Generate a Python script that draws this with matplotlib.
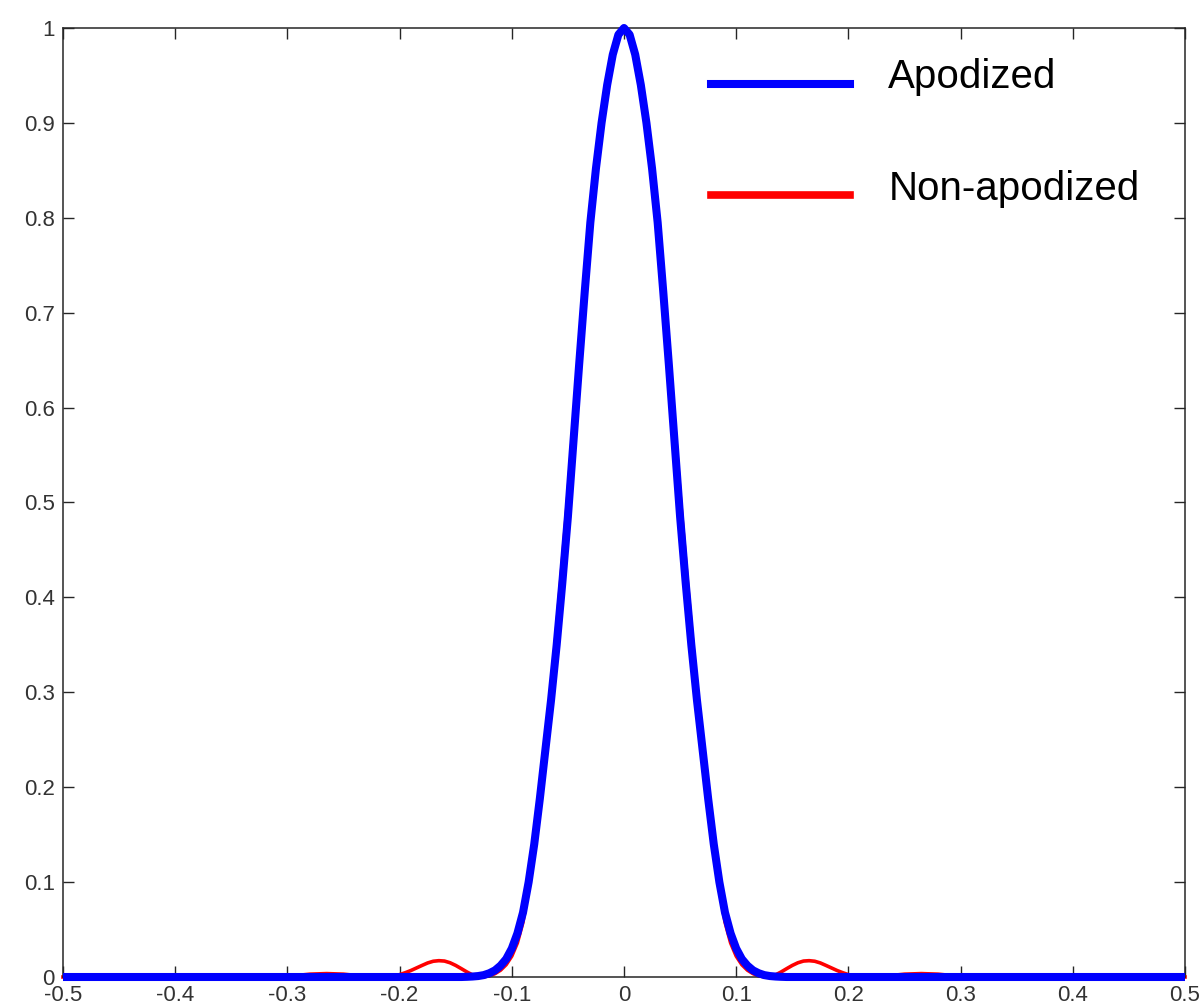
import matplotlib
matplotlib.use("Agg")
import matplotlib.pyplot as plt
from matplotlib.lines import Line2D
from matplotlib.legend_handler import HandlerLine2D

plt.rcParams['font.family'] = ['Liberation Sans', 'DejaVu Sans']

# sample positions
x = [-0.5, -0.45, -0.42, -0.4, -0.385, -0.365, -0.345, -0.33, -0.31, -0.3,
     -0.29, -0.28, -0.265, -0.25, -0.24, -0.23, -0.22, -0.21, -0.205, -0.2,
     -0.195, -0.19, -0.185, -0.18, -0.175, -0.17, -0.165, -0.16, -0.155, -0.15,
     -0.145, -0.14, -0.135, -0.13, -0.125, -0.12, -0.115, -0.11, -0.105, -0.1,
     -0.095, -0.09, -0.085, -0.08, -0.075, -0.07, -0.065, -0.06, -0.055, -0.05,
     -0.045, -0.04, -0.035, -0.03, -0.025, -0.02, -0.015, -0.01, -0.005,
     0.0,
     0.005, 0.01, 0.015, 0.02, 0.025, 0.03, 0.035, 0.04, 0.045, 0.05,
     0.055, 0.06, 0.065, 0.07, 0.075, 0.08, 0.085, 0.09, 0.095, 0.1,
     0.105, 0.11, 0.115, 0.12, 0.125, 0.13, 0.135, 0.14, 0.145, 0.15,
     0.155, 0.16, 0.165, 0.17, 0.175, 0.18, 0.185, 0.19, 0.195, 0.2,
     0.205, 0.21, 0.22, 0.23, 0.24, 0.25, 0.265, 0.28, 0.29, 0.3,
     0.31, 0.33, 0.345, 0.365, 0.385, 0.4, 0.42, 0.45, 0.5]

non_apodized = [0, 0, 0, 0.0002, 0.0008, 0.0012, 0.0008, 0.0002, 0, 0.0006,
                0.0018, 0.003, 0.0036, 0.003, 0.0018, 0.0006, 0, 0.0003, 0.0012, 0.0025,
                0.0045, 0.0068, 0.0095, 0.0122, 0.0148, 0.0166, 0.0172, 0.0168, 0.015, 0.0122,
                0.0088, 0.0053, 0.0022, 0.0004, 0.0002, 0.0012, 0.0035, 0.0072, 0.013, 0.022,
                0.036, 0.058, 0.094, 0.14, 0.19, 0.242, 0.303, 0.368, 0.437, 0.508,
                0.585, 0.662, 0.732, 0.8, 0.856, 0.903, 0.943, 0.974, 0.993,
                1.0,
                0.993, 0.974, 0.943, 0.903, 0.856, 0.8, 0.732, 0.662, 0.585, 0.508,
                0.437, 0.368, 0.303, 0.242, 0.19, 0.14, 0.094, 0.058, 0.036, 0.022,
                0.013, 0.0072, 0.0035, 0.0012, 0.0002, 0.0004, 0.0022, 0.0053, 0.0088, 0.0122,
                0.015, 0.0168, 0.0172, 0.0166, 0.0148, 0.0122, 0.0095, 0.0068, 0.0045, 0.0025,
                0.0012, 0.0003, 0, 0.0006, 0.0018, 0.003, 0.0036, 0.003, 0.0018, 0.0006,
                0, 0.0002, 0.0008, 0.0012, 0.0008, 0.0002, 0, 0, 0]

apodized = [0, 0, 0, 0, 0, 0, 0, 0, 0, 0,
            0, 0, 0, 0, 0, 0, 0, 0, 0, 0,
            0, 0, 0, 0, 0, 0, 0, 0, 0, 0,
            0, 0.0002, 0.0005, 0.001, 0.002, 0.004, 0.007, 0.012, 0.019, 0.03,
            0.046, 0.068, 0.1, 0.14, 0.188, 0.24, 0.292, 0.35, 0.415, 0.485,
            0.565, 0.645, 0.722, 0.795, 0.852, 0.9, 0.94, 0.972, 0.993,
            1.0,
            0.993, 0.972, 0.94, 0.9, 0.852, 0.795, 0.722, 0.645, 0.565, 0.485,
            0.415, 0.35, 0.292, 0.24, 0.188, 0.14, 0.1, 0.068, 0.046, 0.03,
            0.019, 0.012, 0.007, 0.004, 0.002, 0.001, 0.0005, 0.0002, 0, 0,
            0, 0, 0, 0, 0, 0, 0, 0, 0, 0,
            0, 0, 0, 0, 0, 0, 0, 0, 0, 0,
            0, 0, 0, 0, 0, 0, 0, 0, 0]

xticks = [-0.5, -0.4, -0.3, -0.2, -0.1, 0, 0.1, 0.2, 0.3, 0.4, 0.5]
xtick_labels = ['-0.5', '-0.4', '-0.3', '-0.2', '-0.1', '0', '0.1', '0.2', '0.3', '0.4', '0.5']
yticks = [0, 0.1, 0.2, 0.3, 0.4, 0.5, 0.6, 0.7, 0.8, 0.9, 1]
ytick_labels = ['0', '0.1', '0.2', '0.3', '0.4', '0.5', '0.6', '0.7', '0.8', '0.9', '1']
labels = ['Apodized', 'Non-apodized']


class LowLine(HandlerLine2D):
    # legend line sits near the text baseline, like the original
    def create_artists(self, legend, orig_handle, xdescent, ydescent,
                       width, height, fontsize, trans):
        return super().create_artists(legend, orig_handle, xdescent, ydescent + 14,
                                      width, height, fontsize, trans)


fig = plt.figure(figsize=(12.04, 10.05), dpi=100)
ax = fig.add_axes([63 / 1204, 28 / 1005, 1122 / 1204, 949 / 1005])

ax.plot(x, non_apodized, color='#ff0000', lw=2.6, zorder=2, clip_on=False)
ax.plot(x, apodized, color='#0000ff', lw=5.8, zorder=3, clip_on=False,
        solid_capstyle='butt')

ax.set_xlim(-0.5, 0.5)
ax.set_ylim(0, 1)
ax.set_xticks(xticks, xtick_labels)
ax.set_yticks(yticks, ytick_labels)
ax.tick_params(direction='in', top=True, right=True, length=8, width=1,
               color='#262626', labelcolor='#333333', labelsize=16, pad=6)
for sp in ax.spines.values():
    sp.set_color('#262626')
    sp.set_linewidth(1.1)

handles = [Line2D([], [], color='#0000ff', lw=5.8),
           Line2D([], [], color='#ff0000', lw=5.5)]
ax.legend(handles, labels, loc='upper left', bbox_to_anchor=(0.5776, 0.968),
          frameon=False, fontsize=29, handlelength=3.45, handletextpad=0.95,
          labelspacing=1.82, borderpad=0, borderaxespad=0,
          handler_map={Line2D: LowLine()})

fig.savefig('out.png', dpi=100)
